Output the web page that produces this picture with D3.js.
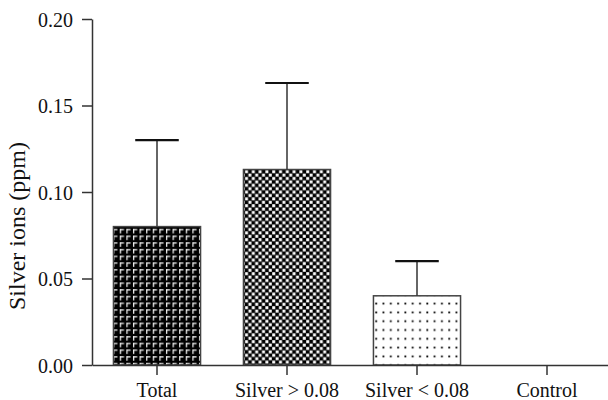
<!DOCTYPE html>
<html>
<head>
<meta charset="utf-8">
<script src="https://cdn.jsdelivr.net/npm/d3@7"></script>
<style>
  body { margin: 0; background: #fff; }
  text { font-family: "Liberation Serif", "DejaVu Serif", serif; }
</style>
</head>
<body>
<div id="viz-container"></div>
<script>
// data
let categories = ["Total", "Silver > 0.08", "Silver < 0.08", "Control"];
let means = [0.08, 0.113, 0.04, 0];
let errors = [0.05, 0.05, 0.02, 0];
let yTicks = [0, 0.05, 0.10, 0.15, 0.20];
let fills = ["url(#pat-gamma)", "url(#pat-check)", "url(#pat-dots)", "none"];

let width = 608, height = 400;
let margin = {top: 19, right: -4, bottom: 35, left: 92};

let viz = d3.select("#viz-container")
  .append("svg")
    .attr("width", width)
    .attr("height", height);

let defs = viz.append("defs");

// black with white little gamma marks
let pg = defs.append("pattern")
  .attr("id", "pat-gamma")
  .attr("patternUnits", "userSpaceOnUse")
  .attr("width", 6.6).attr("height", 6.7);
pg.append("rect").attr("width", 6.6).attr("height", 6.7).attr("fill", "#000");
pg.append("rect").attr("x", 1).attr("y", 1.2).attr("width", 4.2).attr("height", 1.2).attr("fill", "#fff");
pg.append("rect").attr("x", 1).attr("y", 1.2).attr("width", 1.2).attr("height", 4.4).attr("fill", "#fff");

// checkerboard
let pc = defs.append("pattern")
  .attr("id", "pat-check")
  .attr("patternUnits", "userSpaceOnUse")
  .attr("width", 6.8).attr("height", 6.8);
pc.append("rect").attr("width", 6.8).attr("height", 6.8).attr("fill", "#000");
pc.append("rect").attr("x", 0.2).attr("y", 0.2).attr("width", 3).attr("height", 3).attr("fill", "#fff");
pc.append("rect").attr("x", 3.6).attr("y", 3.6).attr("width", 3).attr("height", 3).attr("fill", "#fff");

// dots
let pd = defs.append("pattern")
  .attr("id", "pat-dots")
  .attr("patternUnits", "userSpaceOnUse")
  .attr("width", 7.3).attr("height", 8.8);
pd.append("rect").attr("width", 7.3).attr("height", 8.8).attr("fill", "#fff");
pd.append("rect").attr("x", 3).attr("y", 3.5).attr("width", 1.8).attr("height", 1.8).attr("fill", "#000");

let x = d3.scaleBand()
  .domain(categories)
  .range([margin.left, width - margin.right])
  .paddingInner(0.33)
  .paddingOuter(0.165);

let y = d3.scaleLinear()
  .domain([0, 0.2])
  .range([height - margin.bottom, margin.top]);

// bars
let groups = viz.selectAll(".datagroup").data(categories)
  .enter()
    .append("g")
    .attr("class", "datagroup");

groups.append("rect")
  .attr("x", d => x(d))
  .attr("y", (d, i) => y(means[i]))
  .attr("width", x.bandwidth())
  .attr("height", (d, i) => y(0) - y(means[i]))
  .attr("fill", (d, i) => fills[i])
  .attr("stroke", (d, i) => means[i] > 0 ? "#444" : "none")
  .attr("stroke-width", 1.5);

// error bars (upper only)
groups.filter((d, i) => errors[i] > 0).each(function (d) {
  let i = categories.indexOf(d);
  let cx = x(d) + x.bandwidth() / 2;
  let g = d3.select(this);
  g.append("line")
    .attr("x1", cx).attr("x2", cx)
    .attr("y1", y(means[i])).attr("y2", y(means[i] + errors[i]))
    .attr("stroke", "#333").attr("stroke-width", 1.5);
  g.append("line")
    .attr("x1", cx - x.bandwidth() / 4).attr("x2", cx + x.bandwidth() / 4)
    .attr("y1", y(means[i] + errors[i])).attr("y2", y(means[i] + errors[i]))
    .attr("stroke", "#111").attr("stroke-width", 2.2);
});

// axes
let yAxis = viz.append("g")
  .attr("transform", "translate(" + margin.left + ",0)")
  .call(d3.axisLeft(y).tickValues(yTicks).tickFormat(d3.format(".2f")).tickSize(10).tickSizeOuter(0));

let xAxis = viz.append("g")
  .attr("transform", "translate(0," + y(0) + ")")
  .call(d3.axisBottom(x).tickSize(10).tickSizeOuter(0));

[yAxis, xAxis].forEach(a => {
  a.select(".domain").attr("stroke", "#333").attr("stroke-width", 1.5);
  a.selectAll(".tick line").attr("stroke", "#333").attr("stroke-width", 1.5);
  a.selectAll(".tick text")
    .attr("fill", "#111")
    .attr("font-size", 20)
    .attr("font-family", "Liberation Serif, DejaVu Serif, serif");
});
yAxis.selectAll(".tick text").attr("x", -19).attr("dy", "0.35em");
xAxis.selectAll(".tick text").attr("y", 18).attr("dy", "0.68em");

viz.append("text")
  .attr("transform", "translate(25,226) rotate(-90)")
  .attr("text-anchor", "middle")
  .attr("font-size", 24)
  .attr("fill", "#111")
  .text("Silver ions (ppm)");
</script>
</body>
</html>
